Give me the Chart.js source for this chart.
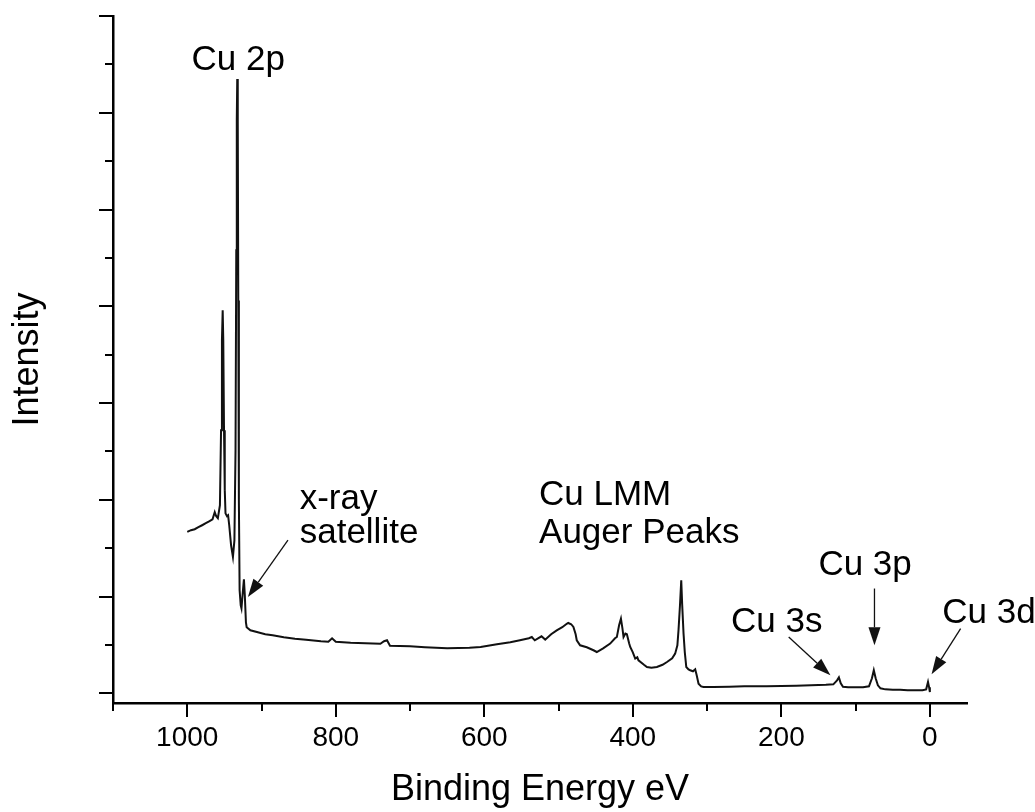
<!DOCTYPE html>
<html>
<head>
<meta charset="utf-8">
<script src="https://cdn.jsdelivr.net/npm/chart.js@4.4.1/dist/chart.umd.min.js"></script>
<style>
  html, body { margin: 0; padding: 0; background: #ffffff; }
  #wrap { width: 1035px; height: 812px; }
</style>
</head>
<body>
<div id="wrap"><canvas id="c" width="1035" height="812"></canvas></div>
<script>
// ---- Data (binding energy in eV, intensity in arbitrary units) ----
const bindingEnergy = [
  1000, 995, 990, 985, 980, 975, 970, 966, 963, 961, 958.8, 956, 954.5, 953.3, 952.3, 951.5, 950.5, 949.5,
  948.5, 946.5, 945, 943.5, 941, 938.5, 936.5, 935, 934, 933.3, 932.7, 932, 931.3, 930.5, 929.5, 928,
  927, 925, 923.7, 922.5, 921, 920, 915, 905, 895, 885, 870, 855, 840, 820, 810, 805, 800, 780, 760,
  740, 735, 731, 727, 700, 680, 650, 620, 605, 583, 565, 552, 540, 536, 532, 523, 518, 510, 502.5,
  495, 489, 487, 483, 480, 477, 475.5, 471, 462, 453, 448.5, 440, 430.5, 424, 421.5, 418.5, 416, 414,
  412.5, 410, 408, 405, 403.5, 400, 396.8, 394, 392.4, 385, 381, 375, 367.6, 360, 354, 347, 343, 340,
  338.5, 336.5, 334.8, 333.5, 331.7, 330, 328, 325, 322.7, 319, 316, 314, 311.5, 308, 304.8, 291, 270,
  250, 220, 200, 180, 160, 140, 130, 125, 122.5, 120, 117, 110, 100, 90, 82, 78, 75.5, 73, 70, 66.5,
  60, 50, 40, 30, 20, 10, 5, 2.5, 1, 0
];
const intensity = [
  1.668, 1.686, 1.696, 1.717, 1.737, 1.758, 1.779, 1.799, 1.872, 1.83, 1.81, 1.944, 2.72, 3.65, 3.96, 3.65, 2.72, 2.10,
  1.86, 1.83, 1.84, 1.737, 1.53, 1.41, 1.58, 2.51, 4.58, 5.93, 6.35, 5.93, 4.06, 2.0, 1.065, 0.91,
  0.879, 1.065, 1.179, 1.013, 0.734, 0.683, 0.651, 0.631, 0.610, 0.600, 0.579, 0.564, 0.553, 0.538, 0.533, 0.569, 0.533, 0.522, 0.517,
  0.512, 0.538, 0.548, 0.491, 0.486, 0.476, 0.465, 0.47, 0.479, 0.507, 0.527, 0.548, 0.569, 0.582, 0.548, 0.589, 0.555, 0.610, 0.651,
  0.683, 0.719, 0.727, 0.714, 0.686, 0.61, 0.548, 0.496, 0.476, 0.445, 0.427, 0.465, 0.514, 0.569, 0.582, 0.703, 0.772, 0.672,
  0.582, 0.617, 0.610, 0.517, 0.479, 0.424, 0.359, 0.372, 0.341, 0.295, 0.272, 0.264, 0.272, 0.295, 0.324, 0.362, 0.41, 0.496,
  0.651, 0.91, 1.169, 0.91, 0.617, 0.424, 0.272, 0.248, 0.238, 0.228, 0.248, 0.186, 0.1, 0.072, 0.065, 0.065, 0.067,
  0.072, 0.074, 0.075, 0.078, 0.083, 0.088, 0.093, 0.134, 0.165, 0.103, 0.067, 0.062, 0.062, 0.062, 0.072, 0.155, 0.238, 0.155, 0.083, 0.052,
  0.041, 0.036, 0.036, 0.031, 0.031, 0.031, 0.041, 0.117, 0.062, 0.013
];

// ---- Axis ticks ----
const xLabelTicks = [0, 200, 400, 600, 800, 1000];
const xMinorTicks = [100, 300, 500, 700, 900, 1100];
const yMajorTicks = [0, 1, 2, 3, 4, 5, 6, 7];
const yMinorTicks = [0.5, 1.5, 2.5, 3.5, 4.5, 5.5, 6.5];

// ---- Annotations (anchored in data space: eV, intensity) ----
const labelTexts = ["Cu 2p", "x-ray", "satellite", "Cu LMM", "Auger Peaks", "Cu 3s", "Cu 3p", "Cu 3d"];
const labelEV    = [994.2, 848.6, 848.6, 526.3, 526.3, 144.7, 150.1, -16.7];
const labelInt   = [6.44, 1.903, 1.551, 1.944, 1.551, 0.631, 1.22, 0.724];
const labelAlign = ["left", "left", "left", "left", "left", "right", "left", "left"];

const arrowFromEV  = [864.4, 190.1, 74.6, -41.4];
const arrowFromInt = [1.582, 0.582, 1.083, 0.669];
const arrowToEV    = [918.3, 133.9, 74.6, -2.3];
const arrowToInt   = [0.996, 0.186, 0.496, 0.196];

const FONT = "'Liberation Sans', Arial, Helvetica, sans-serif";

const points = bindingEnergy.map((e, i) => ({ x: e, y: intensity[i] }));

const decorPlugin = {
  id: 'decor',
  afterDraw(chart) {
    const ctx = chart.ctx;
    const xs = chart.scales.x, ys = chart.scales.y;
    const area = chart.chartArea;
    ctx.save();
    ctx.strokeStyle = '#000';
    ctx.lineWidth = 2;
    ctx.lineCap = 'butt';
    // x ticks
    xLabelTicks.forEach(v => {
      const p = Math.round(xs.getPixelForValue(v));
      ctx.beginPath(); ctx.moveTo(p, area.bottom); ctx.lineTo(p, area.bottom + 14); ctx.stroke();
    });
    xMinorTicks.forEach(v => {
      const p = Math.round(xs.getPixelForValue(v));
      ctx.beginPath(); ctx.moveTo(p, area.bottom); ctx.lineTo(p, area.bottom + 8); ctx.stroke();
    });
    // y ticks
    yMajorTicks.forEach(v => {
      const p = Math.round(ys.getPixelForValue(v));
      ctx.beginPath(); ctx.moveTo(area.left, p); ctx.lineTo(area.left - 14, p); ctx.stroke();
    });
    yMinorTicks.forEach(v => {
      const p = Math.round(ys.getPixelForValue(v));
      ctx.beginPath(); ctx.moveTo(area.left, p); ctx.lineTo(area.left - 8, p); ctx.stroke();
    });

    // annotation texts
    ctx.fillStyle = '#000';
    ctx.font = "35px " + FONT;
    ctx.textBaseline = 'alphabetic';
    labelTexts.forEach((t, i) => {
      ctx.textAlign = labelAlign[i];
      ctx.fillText(t, xs.getPixelForValue(labelEV[i]), ys.getPixelForValue(labelInt[i]));
    });

    // arrows
    ctx.strokeStyle = '#111';
    ctx.fillStyle = '#111';
    ctx.lineWidth = 1.3;
    arrowFromEV.forEach((e, i) => {
      const x1 = xs.getPixelForValue(e), y1 = ys.getPixelForValue(arrowFromInt[i]);
      const x2 = xs.getPixelForValue(arrowToEV[i]), y2 = ys.getPixelForValue(arrowToInt[i]);
      const ang = Math.atan2(y2 - y1, x2 - x1);
      const headLen = 18, headW = 6;
      const bx = x2 - headLen * Math.cos(ang), by = y2 - headLen * Math.sin(ang);
      ctx.beginPath(); ctx.moveTo(x1, y1); ctx.lineTo(bx, by); ctx.stroke();
      ctx.beginPath();
      ctx.moveTo(x2, y2);
      ctx.lineTo(bx + headW * Math.sin(ang), by - headW * Math.cos(ang));
      ctx.lineTo(bx - headW * Math.sin(ang), by + headW * Math.cos(ang));
      ctx.closePath(); ctx.fill();
    });
    ctx.restore();
  }
};

new Chart(document.getElementById('c'), {
  type: 'line',
  data: {
    datasets: [{
      data: points,
      borderColor: '#111',
      borderWidth: 2,
      pointRadius: 0,
      tension: 0,
      fill: false
    }]
  },
  options: {
    responsive: false,
    devicePixelRatio: 1,
    animation: false,
    layout: { padding: { top: 16, right: 68, left: 0, bottom: 0 } },
    plugins: { legend: { display: false }, tooltip: { enabled: false } },
    scales: {
      x: {
        type: 'linear',
        min: -50, max: 1100,
        reverse: true,
        afterBuildTicks: s => { s.ticks = xLabelTicks.map(v => ({ value: v })); },
        afterFit: s => { s.height = 109; },
        grid: { display: false, drawTicks: true, tickLength: 14 },
        border: { display: true, color: '#000', width: 2.5 },
        ticks: { color: '#000', font: { family: FONT, size: 28 }, padding: 4, maxRotation: 0, autoSkip: false,
                 callback: v => String(v) },
        title: { display: true, text: 'Binding Energy eV', color: '#000', font: { family: FONT, size: 36 }, padding: { top: 0, bottom: 0 } }
      },
      y: {
        type: 'linear',
        min: -0.1, max: 7,
        afterFit: s => { s.width = 113; },
        grid: { display: false },
        border: { display: true, color: '#000', width: 2.5 },
        ticks: { display: false },
        title: { display: true, text: 'Intensity', color: '#000', font: { family: FONT, size: 36 }, padding: { top: 6, bottom: 0 } }
      }
    }
  },
  plugins: [decorPlugin]
});
</script>
</body>
</html>
